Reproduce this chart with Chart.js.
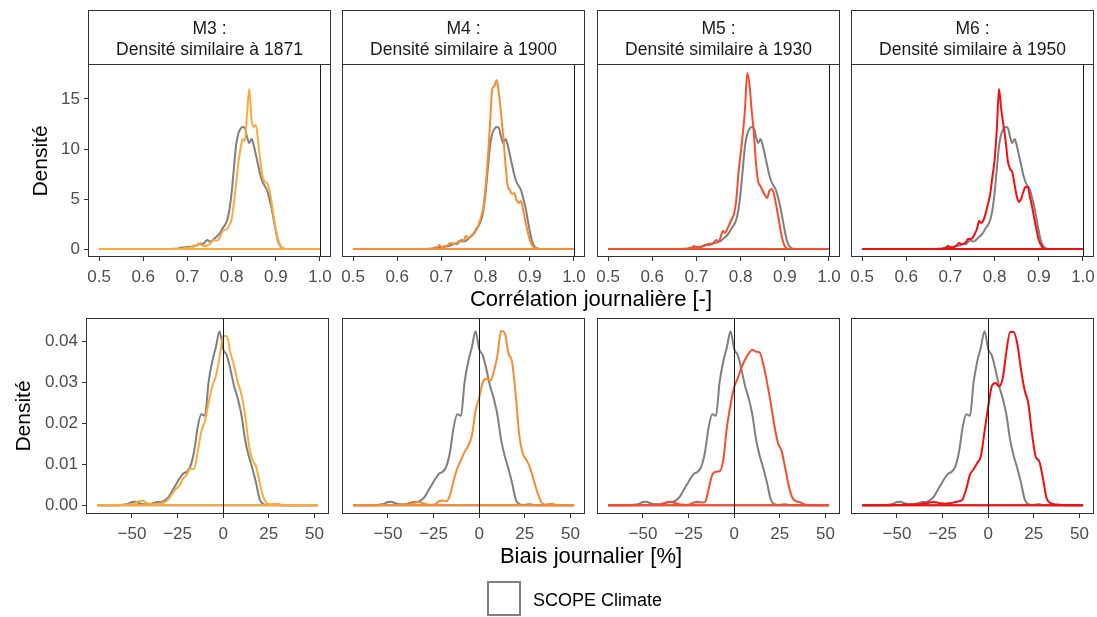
<!DOCTYPE html>
<html>
<head>
<meta charset="utf-8">
<script src="https://cdn.jsdelivr.net/npm/chart.js@4.4.1/dist/chart.umd.min.js"></script>
<style>
  body { margin: 0; background: #fff; width: 1097px; height: 617px; overflow: hidden; position: relative;
         font-family: "Liberation Sans", Arial, sans-serif; }
  canvas { position: absolute; }
  .strip { position: absolute; box-sizing: border-box; border: 1px solid #333; background: #fff; }
  .striptxt { position: absolute; left: 0; right: 0; top: 7px; text-align: center; color: #1a1a1a;
              font-size: 17.5px; line-height: 20.5px; white-space: nowrap; }
  .lab { position: absolute; white-space: nowrap; color: #000; transform: translate(-50%, -50%); }
</style>
</head>
<body>
<script>
// correlation (top row)
var corrX = [0.5, 0.66,
  0.68, 0.685, 0.69, 0.695, 0.70, 0.705, 0.71, 0.715, 0.72, 0.725,
  0.73, 0.735, 0.74, 0.745, 0.75, 0.755, 0.76, 0.765, 0.77, 0.775,
  0.78, 0.785, 0.79, 0.795, 0.80, 0.805, 0.81, 0.815, 0.82, 0.825,
  0.83, 0.835, 0.84, 0.845, 0.85, 0.855, 0.86, 0.865, 0.87, 0.875,
  0.88, 0.885, 0.89, 0.895, 0.90, 0.905, 0.91, 0.915, 0.92, 0.925,
  0.94, 1.0];
var corrScope = [0, 0,
  0.05, 0.12, 0.15, 0.18, 0.2, 0.22, 0.25, 0.3, 0.35, 0.45,
  0.55, 0.5, 0.7, 0.9, 0.75, 0.8, 1.0, 1.2, 1.4, 1.7,
  2.1, 2.4, 2.9, 3.9, 5.6, 8.0, 10.3, 11.5, 12.0, 12.2,
  12.1, 11.2, 10.6, 11.0, 10.4, 9.4, 8.4, 7.4, 6.7, 6.3,
  5.9, 5.1, 4.2, 3.0, 1.8, 0.8, 0.3, 0.1, 0.02, 0,
  0, 0];
var corrM3 = [0, 0,
  0, 0.02, 0.05, 0.1, 0.12, 0.15, 0.2, 0.25, 0.35, 0.55,
  0.45, 0.35, 0.3, 0.35, 0.5, 0.7, 0.9, 0.85, 0.9, 1.3,
  1.8, 1.95, 2.0, 2.4, 3.0, 4.5, 6.5, 8.5, 10.0, 11.0,
  10.8, 13.5, 16.0, 13.0, 12.2, 12.4, 10.8, 8.8, 7.3, 6.7,
  6.6, 6.0, 4.8, 3.3, 2.0, 1.0, 0.4, 0.1, 0, 0,
  0, 0];
var corrM4 = [0, 0,
  0, 0.05, 0.15, 0.4, 0.2, 0.25, 0.3, 0.4, 0.6, 0.55,
  0.5, 0.6, 0.8, 0.75, 0.8, 1.3, 1.1, 1.2, 1.4, 1.6,
  2.0, 2.5, 3.2, 4.2, 6.2, 9.0, 12.5, 16.0, 16.3, 16.9,
  15.6, 13.5, 11.2, 8.5, 6.3, 5.9, 5.5, 5.6, 4.9, 4.6,
  4.8, 3.9, 2.8, 1.8, 0.9, 0.4, 0.15, 0.05, 0, 0,
  0, 0];
var corrM5 = [0, 0,
  0, 0.05, 0.12, 0.3, 0.12, 0.15, 0.2, 0.3, 0.4, 0.45,
  0.4, 0.5, 0.6, 0.65, 0.7, 1.2, 1.8, 1.6, 2.0, 2.5,
  3.0, 3.5, 4.8, 7.5, 9.5, 11.5, 14.0, 17.6, 16.5, 13.9,
  11.6, 8.5, 6.7, 6.3, 5.8, 5.4, 5.1, 5.8, 6.0, 5.6,
  4.5, 3.3, 2.0, 0.9, 0.3, 0.05, 0, 0, 0, 0,
  0, 0];
var corrM6 = [0, 0,
  0, 0.05, 0.12, 0.3, 0.15, 0.15, 0.25, 0.4, 0.6, 0.45,
  0.5, 0.7, 1.0, 1.0, 1.1, 1.5, 2.0, 2.8, 2.6, 2.9,
  3.6, 4.5, 5.5, 7.2, 8.9, 11.9, 16.0, 14.0, 12.4, 10.8,
  8.8, 8.0, 7.7, 6.5, 5.3, 4.7, 5.0, 5.7, 6.2, 6.2,
  5.2, 4.2, 3.0, 1.9, 0.9, 0.4, 0.1, 0, 0, 0,
  0, 0];

// daily bias (bottom row)
var biasX = [-69, -62,
  -56, -54, -52, -50, -48, -46, -44, -42, -40, -38,
  -36, -34, -32, -30, -28, -26, -24, -22, -20, -18,
  -16, -14, -12, -10, -8, -6, -4, -2, 0, 2,
  4, 6, 8, 10, 12, 14, 16, 18, 20, 22,
  24, 26, 28, 30, 32, 34, 36, 38, 40, 42,
  46, 52];
var biasScope = [0, 0,
  0.0001, 0.0002, 0.0004, 0.0008, 0.0009, 0.0005, 0.0003, 0.0003, 0.0003, 0.0006,
  0.0008, 0.0008, 0.0012, 0.002, 0.0035, 0.005, 0.0065, 0.0077, 0.0082, 0.0095,
  0.013, 0.019, 0.0222, 0.0218, 0.030, 0.035, 0.0385, 0.0424, 0.038, 0.0365,
  0.033, 0.029, 0.026, 0.022, 0.016, 0.012, 0.009, 0.0055, 0.0015, 0.0003,
  0.0001, 0.0002, 0.0003, 0.0001, 0, 0, 0, 0, 0, 0,
  0, 0];
var biasM3 = [0, 0,
  0.0001, 0.0001, 0.0002, 0.0003, 0.0006, 0.001, 0.0011, 0.0006, 0.0004, 0.0003,
  0.0004, 0.0005, 0.0008, 0.0015, 0.0028, 0.004, 0.0048, 0.0065, 0.0075, 0.009,
  0.0088, 0.013, 0.018, 0.0205, 0.025, 0.029, 0.0315, 0.036, 0.0412, 0.0412,
  0.037, 0.034, 0.030, 0.027, 0.022, 0.015, 0.011, 0.0095, 0.0055, 0.002,
  0.0005, 0.0002, 0.0003, 0.0004, 0.0001, 0, 0, 0, 0, 0,
  0, 0];
var biasM4 = [0, 0,
  0, 0.0001, 0.0001, 0.0001, 0.0001, 0.0001, 0.0001, 0.0002, 0.0002, 0.0003,
  0.0005, 0.0008, 0.0007, 0.0004, 0.0002, 0.0001, 0.0003, 0.001, 0.0012, 0.001,
  0.0025, 0.006, 0.009, 0.011, 0.013, 0.0145, 0.017, 0.023, 0.0262, 0.030,
  0.0308, 0.0303, 0.0325, 0.0365, 0.0425, 0.042, 0.037, 0.035, 0.027, 0.017,
  0.0125, 0.011, 0.009, 0.006, 0.003, 0.0008, 0.0002, 0.0003, 0.0004, 0.0001,
  0, 0];
var biasM5 = [0, 0,
  0, 0, 0.0001, 0.0001, 0.0001, 0.0001, 0.0002, 0.0002, 0.0003, 0.0005,
  0.0008, 0.0008, 0.0005, 0.0003, 0.0002, 0.0001, 0.0003, 0.0007, 0.0009, 0.0007,
  0.0008, 0.004, 0.0075, 0.0082, 0.0083, 0.011, 0.019, 0.0245, 0.0288, 0.031,
  0.0335, 0.0355, 0.037, 0.0379, 0.0374, 0.0372, 0.0342, 0.030, 0.025, 0.0195,
  0.0152, 0.0132, 0.009, 0.0046, 0.0018, 0.001, 0.0008, 0.0003, 0.0001, 0,
  0, 0];
var biasM6 = [0, 0,
  0, 0, 0.0001, 0.0001, 0.0001, 0.0002, 0.0002, 0.0002, 0.0003, 0.0003,
  0.0004, 0.0005, 0.0007, 0.0008, 0.0007, 0.0005, 0.0004, 0.0005, 0.0006, 0.0008,
  0.001, 0.0015, 0.004, 0.0075, 0.0088, 0.0103, 0.012, 0.018, 0.024, 0.029,
  0.0298, 0.029, 0.031, 0.0375, 0.0422, 0.0422, 0.0392, 0.033, 0.028, 0.0248,
  0.0175, 0.0119, 0.0107, 0.0066, 0.0018, 0.0006, 0.0003, 0.0002, 0.0001, 0,
  0, 0];

var models = ['M3', 'M4', 'M5', 'M6'];
var years = ['1871', '1900', '1930', '1950'];
var modelColors = ['#fdaa3c', '#fc8a2f', '#fa4b2c', '#f70d0d'];
var scopeColor = '#7f7f7f';
var corrModels = [corrM3, corrM4, corrM5, corrM6];
var biasModels = [biasM3, biasM4, biasM5, biasM6];

var corrTicks = [0.5, 0.6, 0.7, 0.8, 0.9, 1.0];
var corrYTicks = [0, 5, 10, 15];
var biasTicks = [-50, -25, 0, 25, 50];
var biasYTicks = [0, 0.01, 0.02, 0.03, 0.04];

var PADL = 70, PADR = 14, PADT = 16, PADB = 40;
var PW = 243;
var topLeft = [88, 342, 597, 851];
var botLeft = [86, 342, 597, 851];

// panel border + reference line
var panelDeco = {
  id: 'panelDeco',
  afterDatasetsDraw: function (chart, args, opts) {
    var a = chart.chartArea, ctx = chart.ctx;
    var vx = Math.round(chart.scales.x.getPixelForValue(opts.vline)) + 0.5;
    ctx.save();
    ctx.strokeStyle = '#1a1a1a';
    ctx.lineWidth = 1;
    ctx.beginPath();
    ctx.moveTo(vx, a.top);
    ctx.lineTo(vx, a.bottom);
    ctx.stroke();
    ctx.strokeStyle = '#333333';
    ctx.strokeRect(a.left + 0.5, a.top + 0.5, a.right - a.left - 1, a.bottom - a.top - 1);
    ctx.restore();
  }
};

function toPoints(xs, ys) {
  return xs.map(function (x, i) { return { x: x, y: ys[i] }; });
}

function minus(v) {
  return v < 0 ? '\u2212' + Math.abs(v) : String(v);
}

function makePanel(row, col) {
  var top = row === 0;
  var xs = top ? corrX : biasX;
  var scope = top ? corrScope : biasScope;
  var model = top ? corrModels[col] : biasModels[col];
  var color = modelColors[col];
  var px = top ? topLeft[col] : botLeft[col];
  var py = top ? 64 : 318;
  var ph = top ? 193 : 196;
  var first = col === 0;

  var cv = document.createElement('canvas');
  cv.width = PW + PADL + PADR;
  cv.height = ph + PADT + PADB;
  cv.style.left = (px - PADL) + 'px';
  cv.style.top = (py - PADT) + 'px';
  document.body.appendChild(cv);

  var base = [{ x: xs[0], y: 0 }, { x: xs[xs.length - 1], y: 0 }];
  var tickFont = { family: 'Liberation Sans', size: 17 };

  new Chart(cv, {
    type: 'line',
    data: {
      datasets: [
        { data: toPoints(xs, model), borderColor: color },
        { data: base, borderColor: color },
        { data: toPoints(xs, scope), borderColor: scopeColor },
        { data: base, borderColor: scopeColor }
      ]
    },
    options: {
      responsive: false,
      animation: false,
      devicePixelRatio: 1,
      layout: { padding: { left: 0, top: PADT, right: PADR, bottom: 0 } },
      elements: {
        point: { radius: 0 },
        line: { borderWidth: 2, cubicInterpolationMode: 'monotone', fill: false }
      },
      plugins: {
        legend: { display: false },
        tooltip: { enabled: false },
        panelDeco: { vline: top ? 1.0 : 0 }
      },
      scales: {
        x: {
          type: 'linear',
          min: top ? 0.475 : -75.2,
          max: top ? 1.025 : 58.0,
          afterBuildTicks: function (s) {
            s.ticks = (top ? corrTicks : biasTicks).map(function (v) { return { value: v }; });
          },
          afterFit: function (s) { s.height = PADB; },
          border: { display: false },
          grid: { display: true, drawOnChartArea: false, drawTicks: true, tickLength: 4, color: '#333333' },
          ticks: {
            autoSkip: false, maxRotation: 0, minRotation: 0, padding: 6,
            color: '#4d4d4d', font: tickFont,
            callback: function (v) { return top ? v.toFixed(1) : minus(v); }
          }
        },
        y: {
          type: 'linear',
          min: top ? -0.8 : -0.0021,
          max: top ? 18.5 : 0.0456,
          afterBuildTicks: function (s) {
            s.ticks = (top ? corrYTicks : biasYTicks).map(function (v) { return { value: v }; });
          },
          afterFit: function (s) { s.width = PADL; },
          border: { display: false },
          grid: { display: first, drawOnChartArea: false, drawTicks: true, tickLength: 4, color: '#333333' },
          ticks: {
            display: first, padding: 4,
            color: '#4d4d4d', font: tickFont,
            callback: function (v) { return top ? String(v) : v.toFixed(2); }
          }
        }
      }
    },
    plugins: [panelDeco]
  });
}

for (var r = 0; r < 2; r++) {
  for (var c = 0; c < 4; c++) makePanel(r, c);
}

// facet strips
models.forEach(function (m, i) {
  var s = document.createElement('div');
  s.className = 'strip';
  s.style.left = topLeft[i] + 'px';
  s.style.top = '10px';
  s.style.width = PW + 'px';
  s.style.height = '55px';
  var t = document.createElement('div');
  t.className = 'striptxt';
  t.innerHTML = m + ' :<br>Densité similaire à ' + years[i];
  s.appendChild(t);
  document.body.appendChild(s);
});

function label(text, cx, cy, size, rot) {
  var d = document.createElement('div');
  d.className = 'lab';
  d.textContent = text;
  d.style.left = cx + 'px';
  d.style.top = cy + 'px';
  d.style.fontSize = size + 'px';
  d.style.lineHeight = size + 'px';
  if (rot) d.style.transform = 'translate(-50%, -50%) rotate(-90deg)';
  document.body.appendChild(d);
}

label('Densité', 38.5, 160.5, 21, true);
label('Densité', 21.5, 416, 21, true);
label('Corrélation journalière [-]', 591, 299, 22);
label('Biais journalier [%]', 591, 556, 22);

// legend
var key = document.createElement('div');
key.style.cssText = 'position:absolute;left:487px;top:581px;width:34px;height:35px;box-sizing:border-box;border:2px solid ' + scopeColor + ';';
document.body.appendChild(key);
var lt = document.createElement('div');
lt.style.cssText = 'position:absolute;left:533px;top:591px;font-size:18px;line-height:18px;color:#000;white-space:nowrap;';
lt.textContent = 'SCOPE Climate';
document.body.appendChild(lt);
</script>
</body>
</html>
